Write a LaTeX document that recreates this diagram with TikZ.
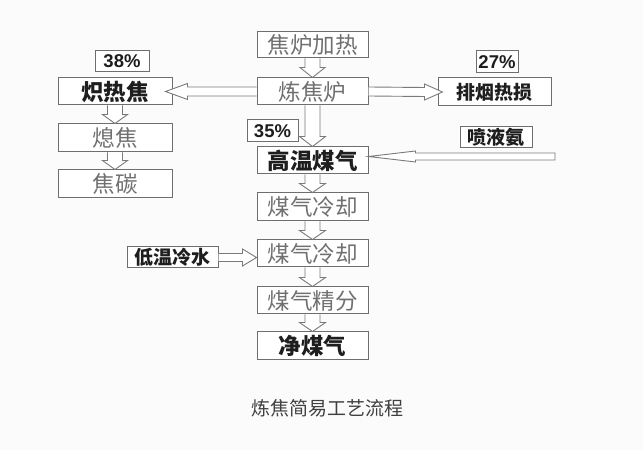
\documentclass[tikz,border=0pt]{standalone}
\usepackage{fontspec}
\newfontfamily\cjk{Noto Sans CJK SC}
\setsansfont{Liberation Sans}
\usetikzlibrary{calc}
\definecolor{bg}{HTML}{FBFBFB}
\definecolor{boxline}{HTML}{6E6E6E}
\definecolor{arrline}{HTML}{7A7A7A}
\definecolor{lighttext}{HTML}{707070}
\definecolor{darktext}{HTML}{1E1E1E}
\tikzset{
  box/.style={draw=boxline, line width=1pt, fill=white, inner sep=0pt, minimum height=27pt, minimum width=111pt},
  light/.style={font=\cjk\fontsize{22.5}{22.5}\selectfont, text=lighttext},
  heavy/.style={font=\cjk\bfseries\fontsize{22.5}{22.5}\selectfont, text=darktext},
  side/.style={font=\cjk\bfseries\fontsize{19}{19}\selectfont, text=darktext, minimum height=21pt},
  pct/.style={draw=boxline, line width=1pt, fill=white, inner sep=0pt, minimum height=21pt, font=\sffamily\bfseries\fontsize{18.5}{18.5}\selectfont, text=darktext},
  arr/.style={draw=arrline, line width=0.9pt, fill=white, line join=miter},
}
% vertical down arrow: start node, end node, half shaft, half head, head length
\newcommand{\darr}[5]{%
  \path[arr] ($(#1.south)+(-#3,0)$) -- ($(#2.north)+(-#3,#5)$) -- ($(#2.north)+(-#4,#5)$) -- (#2.north)
    -- ($(#2.north)+(#4,#5)$) -- ($(#2.north)+(#3,#5)$) -- ($(#1.south)+(#3,0)$);}
% right arrow: start, tip coordinate, half shaft, half head, head length
\newcommand{\rarr}[5]{%
  \path[arr] ($(#1)+(0,#3)$) -- ($(#2)+(-#5,#3)$) -- ($(#2)+(-#5,#4)$) -- (#2)
    -- ($(#2)+(-#5,-#4)$) -- ($(#2)+(-#5,-#3)$) -- ($(#1)+(0,-#3)$);}
% left arrow
\newcommand{\larr}[5]{%
  \path[arr] ($(#1)+(0,#3)$) -- ($(#2)+(#5,#3)$) -- ($(#2)+(#5,#4)$) -- (#2)
    -- ($(#2)+(#5,-#4)$) -- ($(#2)+(#5,-#3)$) -- ($(#1)+(0,-#3)$);}
% left arrow with closed tail
\newcommand{\larrc}[5]{%
  \path[arr] ($(#1)+(0,#3)$) -- ($(#2)+(#5,#3)$) -- ($(#2)+(#5,#4)$) -- (#2)
    -- ($(#2)+(#5,-#4)$) -- ($(#2)+(#5,-#3)$) -- ($(#1)+(0,-#3)$) -- cycle;}
\begin{document}
\begin{tikzpicture}[x=1pt,y=1pt]
\fill[bg] (0,0) rectangle (643,450);
\useasboundingbox (0,0) rectangle (643,450);
% main column
\node[box, light, minimum height=26pt] (heat) at (312.5,405) {焦炉加热};
\node[box, light] (oven) at (312.5,358.5) {炼焦炉};
\node[box, heavy] (hotgas) at (312.5,289.5) {高温煤气};
\node[box, light, minimum height=28pt] (cool1) at (312.5,243) {煤气冷却};
\node[box, light] (cool2) at (312.5,196.5) {煤气冷却};
\node[box, light] (refine) at (312.5,149.5) {煤气精分};
\node[box, heavy, minimum height=28pt] (clean) at (312.5,104) {净煤气};
% left column
\node[box, heavy, minimum width=114pt] (hotcoke) at (115,358.5) {炽热焦};
\node[box, light, minimum width=114pt, minimum height=28pt] (quench) at (115,312) {熄焦};
\node[box, light, minimum width=114pt, minimum height=28pt] (cokec) at (115,266) {焦碳};
% side boxes
\node[box, side, minimum width=113pt, minimum height=28pt] (flue) at (494.5,358) {排烟热损};
\node[box, side, minimum width=72pt] (ammonia) at (496,312.5) {喷液氨};
\node[box, side, minimum width=91pt] (water) at (172.5,192.5) {低温冷水};
% percentages
\node[pct, minimum width=54pt] (p38) at (122,388.5) {38\%};
\node[pct, minimum width=51pt, minimum height=22pt] (p35) at (272.5,319) {35\%};
\node[pct, minimum width=42pt, minimum height=22pt] (p27) at (497,388) {27\%};
% caption
\node[font=\cjk\fontsize{19}{19}\selectfont, text=darktext!85] (cap) at (327,42) {炼焦简易工艺流程};
\coordinate (src) at (555,293.5);
% arrows
\darr{heat}{oven}{7.5}{12.5}{10}
\darr{oven}{hotgas}{7.5}{13}{10}
\darr{hotgas}{cool1}{7.5}{13}{9}
\darr{cool1}{cool2}{7.5}{13}{9}
\darr{cool2}{refine}{7.5}{13}{9}
\darr{refine}{clean}{7.5}{13}{9}
\darr{hotcoke}{quench}{7.5}{12.5}{9}
\darr{quench}{cokec}{7.5}{12.5}{9}
\coordinate (tipL) at ($(hotcoke.east)+(-7,0)$);
\larr{oven.west}{tipL}{4.5}{8}{22}
\coordinate (tipR) at ($(flue.west)+(5,0)$);
\rarr{oven.east}{tipR}{4.5}{8}{18}
\coordinate (tipA) at (hotgas.east |- src);
\larrc{src}{tipA}{3.5}{5.5}{47}
\coordinate (tipW) at (cool2.west |- water.east);
\rarr{water.east}{tipW}{4}{8.5}{14}
\end{tikzpicture}
\end{document}
